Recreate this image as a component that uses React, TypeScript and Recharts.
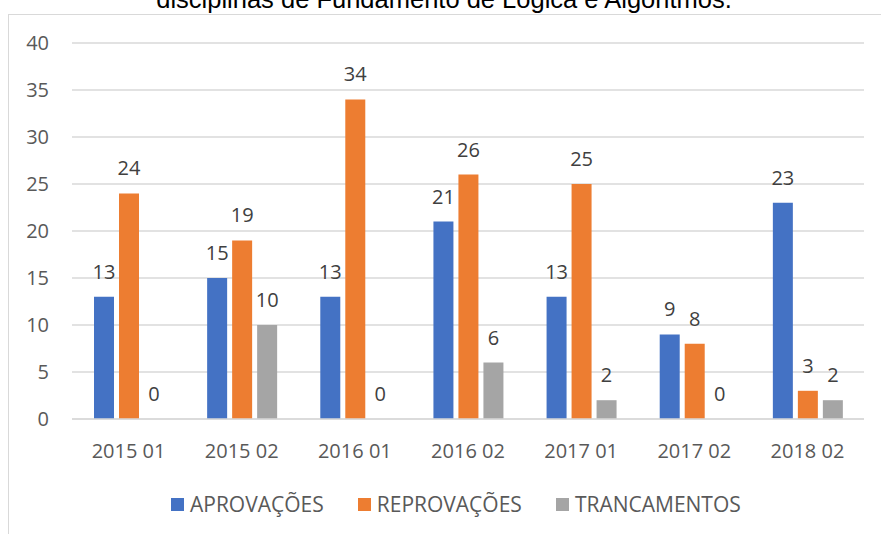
import React from "react";
import { BarChart, Bar, XAxis, YAxis, CartesianGrid, Legend, LabelList } from "recharts";

const categories = ["2015 01", "2015 02", "2016 01", "2016 02", "2017 01", "2017 02", "2018 02"];
const aprovacoes = [13, 15, 13, 21, 13, 9, 23];
const reprovacoes = [24, 19, 34, 26, 25, 8, 3];
const trancamentos = [0, 10, 0, 6, 2, 0, 2];
const yTicks = [0, 5, 10, 15, 20, 25, 30, 35, 40];
const seriesNames = ["APROVAÇÕES", "REPROVAÇÕES", "TRANCAMENTOS"];
const seriesColors = ["#4472C4", "#ED7D31", "#A5A5A5"];
const title = "disciplinas de Fundamento de Lógica e Algoritmos.";

const data = categories.map((c, i) => ({
  name: c,
  a: aprovacoes[i],
  r: reprovacoes[i],
  t: trancamentos[i],
}));

const FONT = "'Open Sans', sans-serif";

const renderLegend = (props: any) => {
  const payload = props.payload || [];
  return (
    <div style={{ display: "flex", paddingLeft: 171, fontFamily: FONT, fontSize: 21, color: "#595959" }}>
      {payload.map((p: any, i: number) => (
        <div key={i} style={{ display: "flex", alignItems: "center", marginRight: 34 }}>
          <span style={{ display: "inline-block", width: 13, height: 13, background: p.color, marginRight: 6 }} />
          <span>{p.value}</span>
        </div>
      ))}
    </div>
  );
};

const zeroMin = (value: any) => (value === 0 ? 0.01 : 0);

export default function App() {
  const keys = ["a", "r", "t"];
  return (
    <div style={{ position: "absolute", left: 0, top: 0, width: 881, height: 534, overflow: "hidden", background: "#fff" }}>
      <div style={{ position: "absolute", left: 8, top: 14, width: 1000, height: 1000, border: "1px solid #d9d9d9", boxSizing: "border-box" }} />
      <svg width={881} height={30} style={{ position: "absolute", left: 0, top: 0 }}>
        <text x={444} y={8} textAnchor="middle" fontFamily="'Liberation Sans', Arial, sans-serif" fontSize={25.5} fill="#000">
          {title}
        </text>
      </svg>
      <div style={{ position: "absolute", left: 0, top: 0 }}>
        <BarChart
          width={881}
          height={534}
          data={data}
          margin={{ top: 43, right: 17, left: 0, bottom: 4 }}
          barSize={20}
          barGap={5}
        >
          <CartesianGrid vertical={false} stroke="#d9d9d9" strokeWidth={1.3} />
          <XAxis
            dataKey="name"
            axisLine={{ stroke: "#d9d9d9", strokeWidth: 1.3 }}
            tickLine={false}
            height={71}
            tickMargin={19}
            tick={{ fill: "#595959", fontSize: 20, fontFamily: FONT }}
            interval={0}
          />
          <YAxis
            width={72}
            domain={[0, 40]}
            ticks={yTicks}
            axisLine={false}
            tickLine={false}
            tickMargin={17}
            tick={{ fill: "#595959", fontSize: 20, fontFamily: FONT }}
          />
          <Legend verticalAlign="bottom" height={40} wrapperStyle={{ left: 0, width: 881 }} content={renderLegend} />
          {keys.map((k, i) => (
            <Bar key={k} dataKey={k} name={seriesNames[i]} fill={seriesColors[i]} isAnimationActive={false} minPointSize={zeroMin}>
              <LabelList dataKey={k} position="top" offset={18} fill="#404040" fontSize={20} fontFamily={FONT} />
            </Bar>
          ))}
        </BarChart>
      </div>
    </div>
  );
}
